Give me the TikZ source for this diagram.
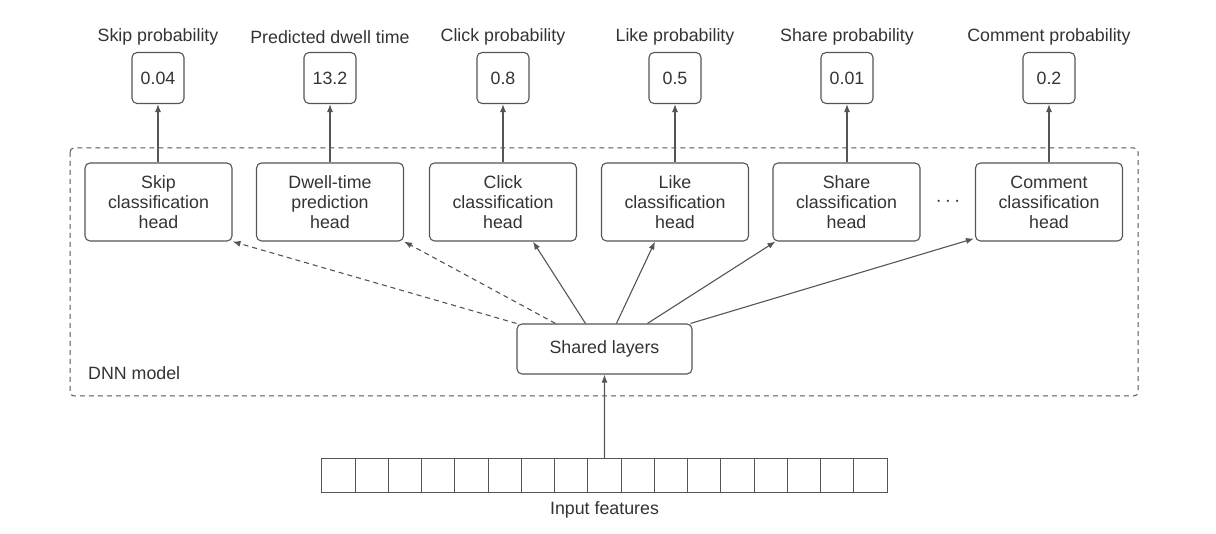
\documentclass[tikz,border=0pt]{standalone}
\usepackage{fontspec}
\setmainfont{Liberation Sans}
\usetikzlibrary{arrows.meta,calc}
\definecolor{ink}{HTML}{333333}
\definecolor{edge}{HTML}{555555}
\tikzset{
  every node/.style={text=ink, font=\fontsize{17.8}{20}\selectfont},
  box/.style={draw=edge, line width=1.1pt, rounded corners=5pt, inner sep=0pt, align=center},
  outbox/.style={box, minimum width=52pt, minimum height=51pt},
  headbox/.style={box, minimum width=147pt, minimum height=78pt},
  cell/.style={draw=edge, line width=1pt, minimum width=33.24pt, minimum height=33pt, inner sep=0pt},
  arr/.style={draw=edge, line width=1.1pt, -{Latex[length=8pt,width=6pt]}},
  darr/.style={arr, dash pattern=on 5pt off 4pt},
  lbl/.style={inner sep=0pt},
}
\begin{document}
\begin{tikzpicture}[x=1pt,y=-1pt]
\useasboundingbox (0,0) rectangle (1216,534);
% DNN model container
\draw[draw=edge, line width=1pt, dash pattern=on 5pt off 4pt, rounded corners=4pt] (70,148) rectangle (1138,396);
\node[lbl, anchor=west] (dnn) at (88,373) {DNN model};
% heads
\node[headbox] (skip) at (158.5,202) {Skip\\classification\\head};
\node[headbox] (dwell) at (330,202) {Dwell-time\\prediction\\head};
\node[headbox] (click) at (503,202) {Click\\classification\\head};
\node[headbox] (like) at (675,202) {Like\\classification\\head};
\node[headbox] (share) at (846.5,202) {Share\\classification\\head};
\node[headbox] (com) at (1049,202) {Comment\\classification\\head};
\node[lbl, font=\fontsize{22}{22}\selectfont] (dots) at (948,202) {$\cdots$};
% outputs
\node[outbox] (oskip) at (158,78) {0.04};
\node[outbox] (odwell) at (330,78) {13.2};
\node[outbox] (oclick) at (503,78) {0.8};
\node[outbox] (olike) at (675,78) {0.5};
\node[outbox] (oshare) at (847,78) {0.01};
\node[outbox] (ocom) at (1049,78) {0.2};
\node[lbl] (lskip) at (158,37) {Skip probability};
\node[lbl] (ldwell) at (330,37) {Predicted dwell time};
\node[lbl] (lclick) at (503,37) {Click probability};
\node[lbl] (llike) at (675,37) {Like probability};
\node[lbl] (lshare) at (847,37) {Share probability};
\node[lbl] (lcom) at (1049,37) {Comment probability};
\foreach \h/\o in {skip/oskip,dwell/odwell,click/oclick,like/olike,share/oshare,com/ocom}
  \draw[arr] (\h.north -| \o.south) -- (\o.south);
% shared layers
\node[box, minimum width=175pt, minimum height=50pt] (sh) at (604.5,349) {Shared layers};
\coordinate (s1) at ($(sh.north west)+(0,0)$);
\coordinate (s2) at ($(sh.north west)+(39,0)$);
\coordinate (s3) at ($(sh.north west)+(69,0)$);
\coordinate (s4) at ($(sh.north west)+(100,0)$);
\coordinate (s5) at ($(sh.north west)+(131,0)$);
\coordinate (s6) at ($(sh.north east)+(-2,0)$);
\draw[darr] (s1) -- (skip.south east);
\draw[darr] (s2) -- (dwell.south east);
\draw[arr] (s3) -- ($(click.south)+(30,0)$);
\draw[arr] (s4) -- ($(like.south)+(-20,0)$);
\draw[arr] (s5) -- ($(share.south west)+(3,0)$);
\draw[arr] (s6) -- ($(com.south west)+(-1,-3)$);
% input features
\foreach \i in {0,...,16}
  \node[cell] (c\i) at ({338.6+33.24*\i},475.5) {};
\node[lbl] (inp) at (604.5,510) {Input features};
\coordinate (ctop) at (c8.north);
\draw[arr] (ctop) -- (sh.south);
\end{tikzpicture}
\end{document}
